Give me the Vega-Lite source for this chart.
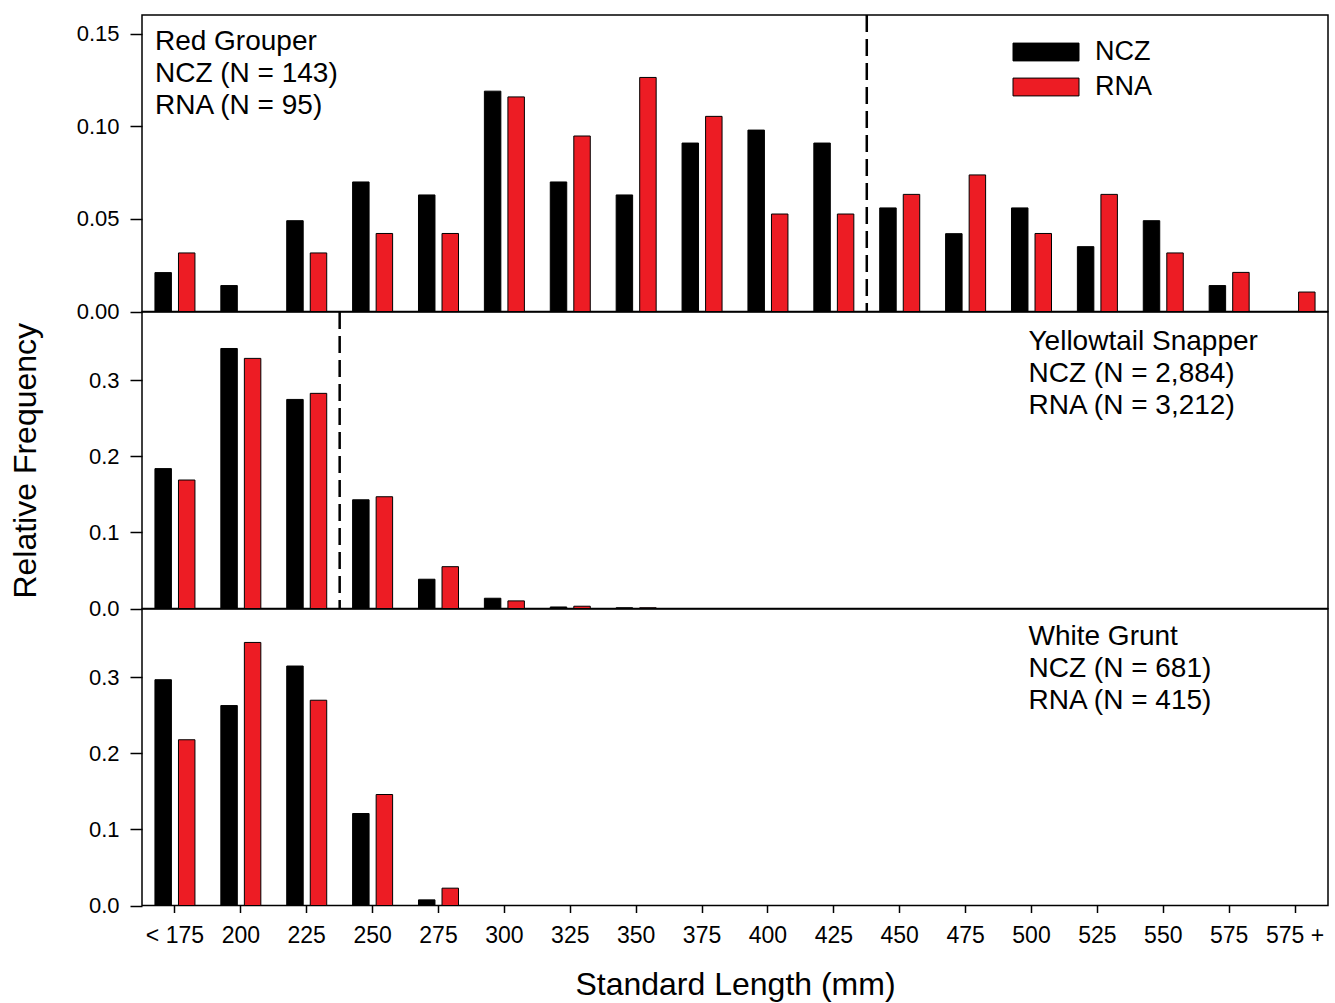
{
  "$schema": "https://vega.github.io/schema/vega-lite/v6.json",
  "background": "white",
  "padding": {"left": 8, "top": 13, "right": 6, "bottom": 0},
  "spacing": 0,
  "bounds": "flush",
  "config": {
    "font": "Liberation Sans",
    "view": {"stroke": "black", "strokeWidth": 1.5},
    "axis": {
      "grid": false,
      "domainColor": "black",
      "domainWidth": 1.5,
      "tickColor": "black",
      "tickWidth": 1.5,
      "tickSize": 12,
      "labelFont": "Liberation Sans",
      "labelFontSize": 22,
      "labelColor": "black",
      "labelPadding": 11,
      "titleFont": "Liberation Sans",
      "titleFontSize": 32,
      "titleFontWeight": "normal",
      "titleColor": "black"
    },
    "legend": {"labelFont": "Liberation Sans"}
  },
  "datasets": {
    "bars": [
      {"panel": "Red Grouper", "size": "< 175", "group": "NCZ", "freq": 0.0210},
      {"panel": "Red Grouper", "size": "200", "group": "NCZ", "freq": 0.0140},
      {"panel": "Red Grouper", "size": "225", "group": "NCZ", "freq": 0.0490},
      {"panel": "Red Grouper", "size": "250", "group": "NCZ", "freq": 0.0699},
      {"panel": "Red Grouper", "size": "275", "group": "NCZ", "freq": 0.0629},
      {"panel": "Red Grouper", "size": "300", "group": "NCZ", "freq": 0.1189},
      {"panel": "Red Grouper", "size": "325", "group": "NCZ", "freq": 0.0699},
      {"panel": "Red Grouper", "size": "350", "group": "NCZ", "freq": 0.0629},
      {"panel": "Red Grouper", "size": "375", "group": "NCZ", "freq": 0.0909},
      {"panel": "Red Grouper", "size": "400", "group": "NCZ", "freq": 0.0979},
      {"panel": "Red Grouper", "size": "425", "group": "NCZ", "freq": 0.0909},
      {"panel": "Red Grouper", "size": "450", "group": "NCZ", "freq": 0.0559},
      {"panel": "Red Grouper", "size": "475", "group": "NCZ", "freq": 0.0420},
      {"panel": "Red Grouper", "size": "500", "group": "NCZ", "freq": 0.0559},
      {"panel": "Red Grouper", "size": "525", "group": "NCZ", "freq": 0.0350},
      {"panel": "Red Grouper", "size": "550", "group": "NCZ", "freq": 0.0490},
      {"panel": "Red Grouper", "size": "575", "group": "NCZ", "freq": 0.0140},
      {"panel": "Red Grouper", "size": "575 +", "group": "NCZ", "freq": 0},
      {"panel": "Red Grouper", "size": "< 175", "group": "RNA", "freq": 0.0316},
      {"panel": "Red Grouper", "size": "200", "group": "RNA", "freq": 0},
      {"panel": "Red Grouper", "size": "225", "group": "RNA", "freq": 0.0316},
      {"panel": "Red Grouper", "size": "250", "group": "RNA", "freq": 0.0421},
      {"panel": "Red Grouper", "size": "275", "group": "RNA", "freq": 0.0421},
      {"panel": "Red Grouper", "size": "300", "group": "RNA", "freq": 0.1158},
      {"panel": "Red Grouper", "size": "325", "group": "RNA", "freq": 0.0947},
      {"panel": "Red Grouper", "size": "350", "group": "RNA", "freq": 0.1263},
      {"panel": "Red Grouper", "size": "375", "group": "RNA", "freq": 0.1053},
      {"panel": "Red Grouper", "size": "400", "group": "RNA", "freq": 0.0526},
      {"panel": "Red Grouper", "size": "425", "group": "RNA", "freq": 0.0526},
      {"panel": "Red Grouper", "size": "450", "group": "RNA", "freq": 0.0632},
      {"panel": "Red Grouper", "size": "475", "group": "RNA", "freq": 0.0737},
      {"panel": "Red Grouper", "size": "500", "group": "RNA", "freq": 0.0421},
      {"panel": "Red Grouper", "size": "525", "group": "RNA", "freq": 0.0632},
      {"panel": "Red Grouper", "size": "550", "group": "RNA", "freq": 0.0316},
      {"panel": "Red Grouper", "size": "575", "group": "RNA", "freq": 0.0211},
      {"panel": "Red Grouper", "size": "575 +", "group": "RNA", "freq": 0.0105},
      {"panel": "Yellowtail Snapper", "size": "< 175", "group": "NCZ", "freq": 0.184},
      {"panel": "Yellowtail Snapper", "size": "200", "group": "NCZ", "freq": 0.342},
      {"panel": "Yellowtail Snapper", "size": "225", "group": "NCZ", "freq": 0.275},
      {"panel": "Yellowtail Snapper", "size": "250", "group": "NCZ", "freq": 0.143},
      {"panel": "Yellowtail Snapper", "size": "275", "group": "NCZ", "freq": 0.0385},
      {"panel": "Yellowtail Snapper", "size": "300", "group": "NCZ", "freq": 0.0135},
      {"panel": "Yellowtail Snapper", "size": "325", "group": "NCZ", "freq": 0.002},
      {"panel": "Yellowtail Snapper", "size": "350", "group": "NCZ", "freq": 0.001},
      {"panel": "Yellowtail Snapper", "size": "< 175", "group": "RNA", "freq": 0.169},
      {"panel": "Yellowtail Snapper", "size": "200", "group": "RNA", "freq": 0.329},
      {"panel": "Yellowtail Snapper", "size": "225", "group": "RNA", "freq": 0.283},
      {"panel": "Yellowtail Snapper", "size": "250", "group": "RNA", "freq": 0.147},
      {"panel": "Yellowtail Snapper", "size": "275", "group": "RNA", "freq": 0.055},
      {"panel": "Yellowtail Snapper", "size": "300", "group": "RNA", "freq": 0.010},
      {"panel": "Yellowtail Snapper", "size": "325", "group": "RNA", "freq": 0.003},
      {"panel": "Yellowtail Snapper", "size": "350", "group": "RNA", "freq": 0.001},
      {"panel": "White Grunt", "size": "< 175", "group": "NCZ", "freq": 0.297},
      {"panel": "White Grunt", "size": "200", "group": "NCZ", "freq": 0.263},
      {"panel": "White Grunt", "size": "225", "group": "NCZ", "freq": 0.315},
      {"panel": "White Grunt", "size": "250", "group": "NCZ", "freq": 0.121},
      {"panel": "White Grunt", "size": "275", "group": "NCZ", "freq": 0.0074},
      {"panel": "White Grunt", "size": "< 175", "group": "RNA", "freq": 0.218},
      {"panel": "White Grunt", "size": "200", "group": "RNA", "freq": 0.346},
      {"panel": "White Grunt", "size": "225", "group": "RNA", "freq": 0.270},
      {"panel": "White Grunt", "size": "250", "group": "RNA", "freq": 0.146},
      {"panel": "White Grunt", "size": "275", "group": "RNA", "freq": 0.0228}
    ],
    "cuts": [
      {"panel": "Red Grouper", "cut": "450"},
      {"panel": "Yellowtail Snapper", "cut": "250"}
    ],
    "notes": [
      {"panel": "Red Grouper", "note": "Red Grouper\nNCZ (N = 143)\nRNA (N = 95)"},
      {"panel": "Yellowtail Snapper", "note": "Yellowtail Snapper\nNCZ (N = 2,884)\nRNA (N = 3,212)"},
      {"panel": "White Grunt", "note": "White Grunt\nNCZ (N = 681)\nRNA (N = 415)"}
    ]
  },
  "vconcat": [
    {
      "width": 1186,
      "height": 296.5,
      "layer": [
        {
          "data": {"name": "bars"},
          "transform": [{"filter": "datum.panel === 'Red Grouper'"}],
          "mark": {"type": "bar", "stroke": "black", "strokeWidth": 1},
          "encoding": {
            "x": {"field": "size", "type": "ordinal", "sort": null,
                  "scale": {"domain": ["< 175","200","225","250","275","300","325","350","375","400","425","450","475","500","525","550","575","575 +"], "paddingInner": 0, "paddingOuter": 0},
                  "axis": null},
            "xOffset": {"field": "group", "type": "nominal", "scale": {"domain": ["NCZ","RNA"], "paddingInner": 0.3, "paddingOuter": 0.55}},
            "y": {"field": "freq", "type": "quantitative",
                  "scale": {"domain": [0, 0.16], "nice": false},
                  "axis": {"values": [0, 0.05, 0.1, 0.15], "format": ".2f", "title": null, "domain": false}},
            "color": {"field": "group", "type": "nominal",
                      "scale": {"domain": ["NCZ","RNA"], "range": ["#000000","#ED1C24"]},
                      "legend": {"orient": "none", "legendX": 887, "legendY": 20, "title": null,
                                 "symbolType": "M-2,-0.54H2V0.54H-2Z", "symbolSize": 1089,
                                 "symbolStrokeColor": "black", "symbolStrokeWidth": 1,
                                 "labelFontSize": 27, "labelColor": "black", "labelOffset": 32, "rowPadding": 5}}
          }
        },
        {
          "data": {"name": "cuts"},
          "transform": [{"filter": "datum.panel === 'Red Grouper'"}],
          "mark": {"type": "rule", "color": "black", "strokeWidth": 2.5, "strokeDash": [17, 7]},
          "encoding": {"x": {"field": "cut", "type": "ordinal", "bandPosition": 0}}
        },
        {
          "data": {"name": "notes"},
          "transform": [{"filter": "datum.panel === 'Red Grouper'"}],
          "mark": {"type": "text", "align": "left", "baseline": "alphabetic", "lineBreak": "\n", "lineHeight": 32, "fontSize": 28, "color": "black", "dx": -20},
          "encoding": {
            "x": {"datum": "< 175", "type": "ordinal"},
            "y": {"datum": 0.141, "type": "quantitative"},
            "text": {"field": "note", "type": "nominal"}
          }
        }
      ]
    },
    {
      "width": 1186,
      "height": 296.5,
      "layer": [
        {
          "data": {"name": "bars"},
          "transform": [{"filter": "datum.panel === 'Yellowtail Snapper'"}],
          "mark": {"type": "bar", "stroke": "black", "strokeWidth": 1},
          "encoding": {
            "x": {"field": "size", "type": "ordinal", "sort": null,
                  "scale": {"domain": ["< 175","200","225","250","275","300","325","350","375","400","425","450","475","500","525","550","575","575 +"], "paddingInner": 0, "paddingOuter": 0},
                  "axis": null},
            "xOffset": {"field": "group", "type": "nominal", "scale": {"domain": ["NCZ","RNA"], "paddingInner": 0.3, "paddingOuter": 0.55}},
            "y": {"field": "freq", "type": "quantitative",
                  "scale": {"domain": [0, 0.39], "nice": false},
                  "axis": {"values": [0, 0.1, 0.2, 0.3], "format": ".1f", "title": "Relative Frequency", "titlePadding": 46, "domain": false}},
            "color": {"field": "group", "type": "nominal",
                      "scale": {"domain": ["NCZ","RNA"], "range": ["#000000","#ED1C24"]},
                      "legend": null}
          }
        },
        {
          "data": {"name": "cuts"},
          "transform": [{"filter": "datum.panel === 'Yellowtail Snapper'"}],
          "mark": {"type": "rule", "color": "black", "strokeWidth": 2.5, "strokeDash": [17, 7]},
          "encoding": {"x": {"field": "cut", "type": "ordinal", "bandPosition": 0}}
        },
        {
          "data": {"name": "notes"},
          "transform": [{"filter": "datum.panel === 'Yellowtail Snapper'"}],
          "mark": {"type": "text", "align": "left", "baseline": "alphabetic", "lineBreak": "\n", "lineHeight": 32, "fontSize": 28, "color": "black", "dx": -3},
          "encoding": {
            "x": {"datum": "500", "type": "ordinal"},
            "y": {"datum": 0.34, "type": "quantitative"},
            "text": {"field": "note", "type": "nominal"}
          }
        }
      ]
    },
    {
      "width": 1186,
      "height": 296.5,
      "layer": [
        {
          "data": {"name": "bars"},
          "transform": [{"filter": "datum.panel === 'White Grunt'"}],
          "mark": {"type": "bar", "stroke": "black", "strokeWidth": 1},
          "encoding": {
            "x": {"field": "size", "type": "ordinal", "sort": null,
                  "scale": {"domain": ["< 175","200","225","250","275","300","325","350","375","400","425","450","475","500","525","550","575","575 +"], "paddingInner": 0, "paddingOuter": 0},
                  "axis": {"title": "Standard Length (mm)", "labelAngle": 0, "labelFontSize": 23, "bandPosition": 0.5, "tickSize": 7, "labelPadding": 12, "titlePadding": 22, "domain": false}},
            "xOffset": {"field": "group", "type": "nominal", "scale": {"domain": ["NCZ","RNA"], "paddingInner": 0.3, "paddingOuter": 0.55}},
            "y": {"field": "freq", "type": "quantitative",
                  "scale": {"domain": [0, 0.39], "nice": false},
                  "axis": {"values": [0, 0.1, 0.2, 0.3], "format": ".1f", "title": null, "domain": false}},
            "color": {"field": "group", "type": "nominal",
                      "scale": {"domain": ["NCZ","RNA"], "range": ["#000000","#ED1C24"]},
                      "legend": null}
          }
        },
        {
          "data": {"name": "notes"},
          "transform": [{"filter": "datum.panel === 'White Grunt'"}],
          "mark": {"type": "text", "align": "left", "baseline": "alphabetic", "lineBreak": "\n", "lineHeight": 32, "fontSize": 28, "color": "black", "dx": -3},
          "encoding": {
            "x": {"datum": "500", "type": "ordinal"},
            "y": {"datum": 0.3425, "type": "quantitative"},
            "text": {"field": "note", "type": "nominal"}
          }
        }
      ]
    }
  ]
}
